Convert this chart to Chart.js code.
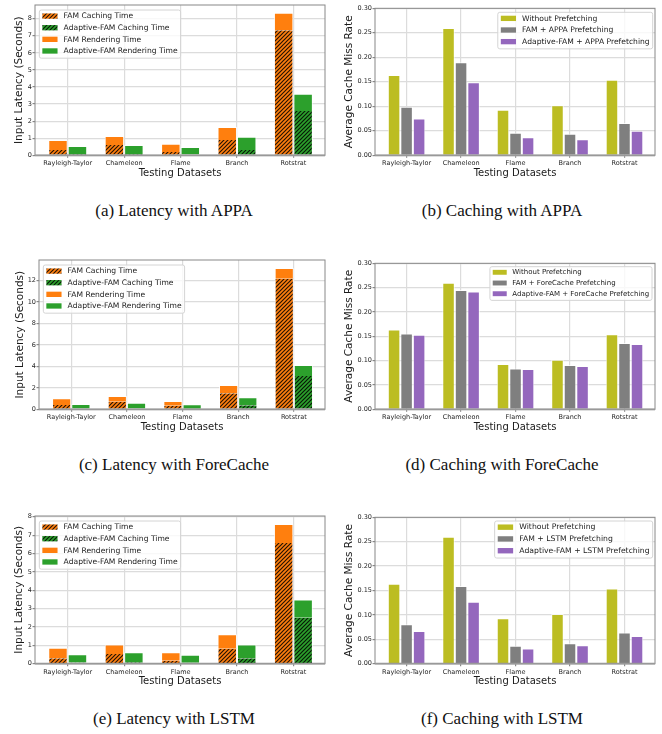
<!DOCTYPE html>
<html>
<head>
<meta charset="utf-8">
<script src="https://cdn.jsdelivr.net/npm/chart.js@4.4.1/dist/chart.umd.min.js"></script>
<style>
  html, body { margin: 0; padding: 0; background: #fff; }
  body { width: 662px; height: 734px; position: relative; overflow: hidden; }
  canvas { position: absolute; }
  .cap {
    position: absolute; width: 330px; text-align: center; white-space: nowrap;
    font-family: 'Liberation Serif', 'Times New Roman', serif;
    font-size: 17px; line-height: 20px; color: #111;
  }
</style>
</head>
<body>
<canvas id="latAppa"  width="330" height="185" style="left:0;top:0"></canvas>
<canvas id="missAppa" width="332" height="185" style="left:330px;top:0"></canvas>
<canvas id="latFore"  width="330" height="190" style="left:0;top:255px"></canvas>
<canvas id="missFore" width="332" height="190" style="left:330px;top:255px"></canvas>
<canvas id="latLstm"  width="330" height="190" style="left:0;top:510px"></canvas>
<canvas id="missLstm" width="332" height="190" style="left:330px;top:510px"></canvas>

<div class="cap" style="left:9px;top:201px">(a) Latency with APPA</div>
<div class="cap" style="left:337px;top:201px">(b) Caching with APPA</div>
<div class="cap" style="left:9px;top:455px">(c) Latency with ForeCache</div>
<div class="cap" style="left:337px;top:455px">(d) Caching with ForeCache</div>
<div class="cap" style="left:9px;top:709px">(e) Latency with LSTM</div>
<div class="cap" style="left:337px;top:709px">(f) Caching with LSTM</div>

<script>
// ---- data ----
const datasetNames = ['Rayleigh-Taylor', 'Chameleon', 'Flame', 'Branch', 'Rotstrat'];

// Input latency in seconds: caching part (bottom) and rendering part (top) of each bar
const appaFamCaching     = [0.31, 0.61, 0.20, 0.90, 7.32];
const appaFamRendering   = [0.59, 0.52, 0.47, 0.76, 1.02];
const appaAdaptCaching   = [0.07, 0.08, 0.05, 0.31, 2.60];
const appaAdaptRendering = [0.48, 0.53, 0.44, 0.77, 1.00];

const foreFamCaching     = [0.40, 0.71, 0.34, 1.49, 12.15];
const foreFamRendering   = [0.63, 0.53, 0.44, 0.78, 1.00];
const foreAdaptCaching   = [0.07, 0.08, 0.05, 0.37, 3.11];
const foreAdaptRendering = [0.43, 0.54, 0.42, 0.75, 1.02];

const lstmFamCaching     = [0.29, 0.53, 0.16, 0.82, 6.57];
const lstmFamRendering   = [0.58, 0.52, 0.46, 0.78, 1.03];
const lstmAdaptCaching   = [0.06, 0.08, 0.05, 0.29, 2.50];
const lstmAdaptRendering = [0.45, 0.54, 0.44, 0.76, 1.00];

// Average cache miss rate
const missNoPrefetch = [0.164, 0.260, 0.093, 0.102, 0.154];
const missFamAppa    = [0.099, 0.190, 0.046, 0.044, 0.066];
const missAdaptAppa  = [0.075, 0.149, 0.037, 0.033, 0.050];
const missFamFore    = [0.156, 0.245, 0.084, 0.091, 0.136];
const missAdaptFore  = [0.153, 0.242, 0.083, 0.089, 0.134];
const missFamLstm    = [0.081, 0.159, 0.037, 0.042, 0.064];
const missAdaptLstm  = [0.067, 0.127, 0.031, 0.038, 0.057];

// ---- styling ----
const ORANGE = '#ff7f0e', GREEN = '#2ca02c', OLIVE = '#bcbd22', GREY = '#7f7f7f', PURPLE = '#9467bd';
const FONT = "'DejaVu Sans', 'Liberation Sans', sans-serif";
Chart.defaults.font.family = FONT;
Chart.defaults.color = '#262626';

function hatch(color) {
  const s = 4;
  const c = document.createElement('canvas');
  c.width = s; c.height = s;
  const g = c.getContext('2d');
  g.fillStyle = color;
  g.fillRect(0, 0, s, s);
  g.strokeStyle = 'rgba(0,0,0,0.85)';
  g.lineWidth = 1.2;
  g.beginPath();
  g.moveTo(0, s); g.lineTo(s, 0);
  g.moveTo(-1, 1); g.lineTo(1, -1);
  g.moveTo(s - 1, s + 1); g.lineTo(s + 1, s - 1);
  g.stroke();
  return g.createPattern(c, 'repeat');
}

// axes frame on all four sides, with a slightly heavier baseline
const frame = {
  id: 'frame',
  afterDatasetsDraw(chart) {
    const a = chart.chartArea, ctx = chart.ctx;
    ctx.save();
    ctx.strokeStyle = '#888';
    ctx.lineWidth = 1;
    ctx.strokeRect(a.left, a.top, a.right - a.left, a.bottom - a.top);
    ctx.strokeStyle = '#999';
    ctx.lineWidth = 1.8;
    ctx.beginPath();
    ctx.moveTo(a.left, a.bottom);
    ctx.lineTo(a.right, a.bottom);
    ctx.stroke();
    ctx.restore();
  }
};

// legend box drawn inside the plot area
const insetLegend = {
  id: 'insetLegend',
  afterDraw(chart, _args, o) {
    const ctx = chart.ctx, fs = o.fontSize;
    const ds = chart.data.datasets;
    ctx.save();
    ctx.font = fs + 'px ' + FONT;
    const tw = Math.max(...ds.map(d => ctx.measureText(d.label).width));
    const padX = 0.4 * fs, sw = 2 * fs, sh = 0.7 * fs, gap = 0.8 * fs, rh = 1.53 * fs;
    const w = padX + sw + gap + tw + padX;
    const h = 0.8 * fs + (ds.length - 1) * rh + 0.95 * fs;
    const x = (o.left !== undefined) ? o.left : o.right - w;
    const y = o.top;
    ctx.beginPath();
    if (ctx.roundRect) ctx.roundRect(x, y, w, h, 2); else ctx.rect(x, y, w, h);
    ctx.fillStyle = 'rgba(255,255,255,0.8)';
    ctx.fill();
    ctx.strokeStyle = '#d4d4d4';
    ctx.lineWidth = 1;
    ctx.stroke();
    ctx.textBaseline = 'middle';
    ctx.textAlign = 'left';
    ds.forEach((d, i) => {
      const cy = y + 0.8 * fs + i * rh;
      ctx.fillStyle = d.backgroundColor;
      ctx.fillRect(x + padX, cy - sh / 2, sw, sh);
      ctx.fillStyle = '#1a1a1a';
      ctx.fillText(d.label, x + padX + sw + gap, cy + 0.3);
    });
    ctx.restore();
  }
};

const GRID = '#dcdcdc';
const TICK = '#888';

function makeChart(id, geo, datasets, yCfg, legend) {
  const canvas = document.getElementById(id);
  const W = canvas.width, H = canvas.height;
  const yTitleFs = 10.5, xTitleFs = 10;
  return new Chart(canvas, {
    type: 'bar',
    data: { labels: datasetNames, datasets },
    plugins: [frame, insetLegend],
    options: {
      responsive: false,
      animation: false,
      devicePixelRatio: 1,
      layout: { padding: { left: 0, top: geo.t, right: W - geo.r, bottom: 0 } },
      plugins: {
        legend: { display: false },
        tooltip: { enabled: false },
        insetLegend: legend
      },
      scales: {
        x: {
          stacked: yCfg.stacked,
          offset: true,
          afterBuildTicks(s) { s._startValue = -0.58; s._valueRange = 5.14; },
          afterFit(s) { s.height = H - geo.b; },
          grid: { offset: false, color: GRID, lineWidth: 1.2, tickLength: 2.5, tickColor: TICK, drawTicks: true },
          border: { display: false },
          ticks: { font: { size: 6.5 }, color: '#262626', padding: 2, maxRotation: 0, autoSkip: false },
          title: {
            display: true, text: 'Testing Datasets', color: '#1a1a1a',
            font: { size: xTitleFs, lineHeight: 1.2 },
            padding: { top: 0, bottom: (H - geo.xTitleY) - xTitleFs * 0.6 }
          }
        },
        y: {
          stacked: yCfg.stacked,
          min: 0,
          max: yCfg.max,
          afterFit(s) { s.width = geo.l; },
          grid: { color: GRID, lineWidth: 1.2, tickLength: 2.5, tickColor: TICK, drawTicks: true },
          border: { display: false },
          ticks: {
            stepSize: yCfg.step, includeBounds: false, font: { size: 6.5 }, color: '#262626', padding: 0.5,
            callback: yCfg.fmt
          },
          title: {
            display: true, text: yCfg.title, color: '#1a1a1a',
            font: { size: yTitleFs, lineHeight: 1.2 },
            padding: { top: geo.yTitleX - yTitleFs * 0.6, bottom: 0 }
          }
        }
      }
    }
  });
}

const edge = 'rgba(255,255,255,0.75)';
function latencySets(famC, adaC, famR, adaR) {
  const common = { categoryPercentage: 0.69, barPercentage: 1.0, borderColor: edge, borderSkipped: false };
  return [
    { ...common, label: 'FAM Caching Time', data: famC, stack: 'fam', backgroundColor: hatch(ORANGE), borderWidth: { left: 1, right: 1, top: 0, bottom: 0 } },
    { ...common, label: 'Adaptive-FAM Caching Time', data: adaC, stack: 'adapt', backgroundColor: hatch(GREEN), borderWidth: { left: 1, right: 1, top: 0, bottom: 0 } },
    { ...common, label: 'FAM Rendering Time', data: famR, stack: 'fam', backgroundColor: ORANGE, borderWidth: { left: 1, right: 1, top: 1, bottom: 0 } },
    { ...common, label: 'Adaptive-FAM Rendering Time', data: adaR, stack: 'adapt', backgroundColor: GREEN, borderWidth: { left: 1, right: 1, top: 1, bottom: 0 } }
  ];
}
function missSets(name, fam, ada) {
  const common = { categoryPercentage: 0.69, barPercentage: 1.0, borderColor: edge, borderWidth: 1 };
  return [
    { ...common, label: 'Without Prefetching', data: missNoPrefetch, backgroundColor: OLIVE },
    { ...common, label: 'FAM + ' + name + ' Prefetching', data: fam, backgroundColor: GREY },
    { ...common, label: 'Adaptive-FAM + ' + name + ' Prefetching', data: ada, backgroundColor: PURPLE }
  ];
}

const intFmt = v => String(v);
const rateFmt = v => v.toFixed(2);
const latTitle = 'Input Latency (Seconds)';
const missTitle = 'Average Cache Miss Rate';

makeChart('latAppa',
  { l: 35, t: 5, r: 325, b: 155.3, yTitleX: 19.3, xTitleY: 173.7 },
  latencySets(appaFamCaching, appaAdaptCaching, appaFamRendering, appaAdaptRendering),
  { stacked: true, max: 8.8, step: 1, fmt: intFmt, title: latTitle },
  { left: 39.3, top: 10, fontSize: 7.6 });

makeChart('missAppa',
  { l: 45, t: 8.3, r: 325, b: 155.3, yTitleX: 19, xTitleY: 173.3 },
  missSets('APPA', missFamAppa, missAdaptAppa),
  { stacked: false, max: 0.30, step: 0.05, fmt: rateFmt, title: missTitle },
  { right: 322.7, top: 12.3, fontSize: 7.6 });

makeChart('latFore',
  { l: 39, t: 5, r: 325, b: 154.3, yTitleX: 20, xTitleY: 172.7 },
  latencySets(foreFamCaching, foreAdaptCaching, foreFamRendering, foreAdaptRendering),
  { stacked: true, max: 13.9, step: 2, fmt: intFmt, title: latTitle },
  { left: 43.3, top: 10, fontSize: 7.6 });

makeChart('missFore',
  { l: 45, t: 8.3, r: 325, b: 154.3, yTitleX: 19, xTitleY: 172.7 },
  missSets('ForeCache', missFamFore, missAdaptFore),
  { stacked: false, max: 0.30, step: 0.05, fmt: rateFmt, title: missTitle },
  { right: 322, top: 11.7, fontSize: 7.0 });

makeChart('latLstm',
  { l: 35, t: 6, r: 325, b: 153.7, yTitleX: 19.3, xTitleY: 171.7 },
  latencySets(lstmFamCaching, lstmAdaptCaching, lstmFamRendering, lstmAdaptRendering),
  { stacked: true, max: 8.04, step: 1, fmt: intFmt, title: latTitle },
  { left: 39.3, top: 11, fontSize: 7.6 });

makeChart('missLstm',
  { l: 45, t: 7.3, r: 325, b: 153.7, yTitleX: 19, xTitleY: 171.7 },
  missSets('LSTM', missFamLstm, missAdaptLstm),
  { stacked: false, max: 0.30, step: 0.05, fmt: rateFmt, title: missTitle },
  { right: 322.7, top: 11, fontSize: 7.7 });
</script>
</body>
</html>
